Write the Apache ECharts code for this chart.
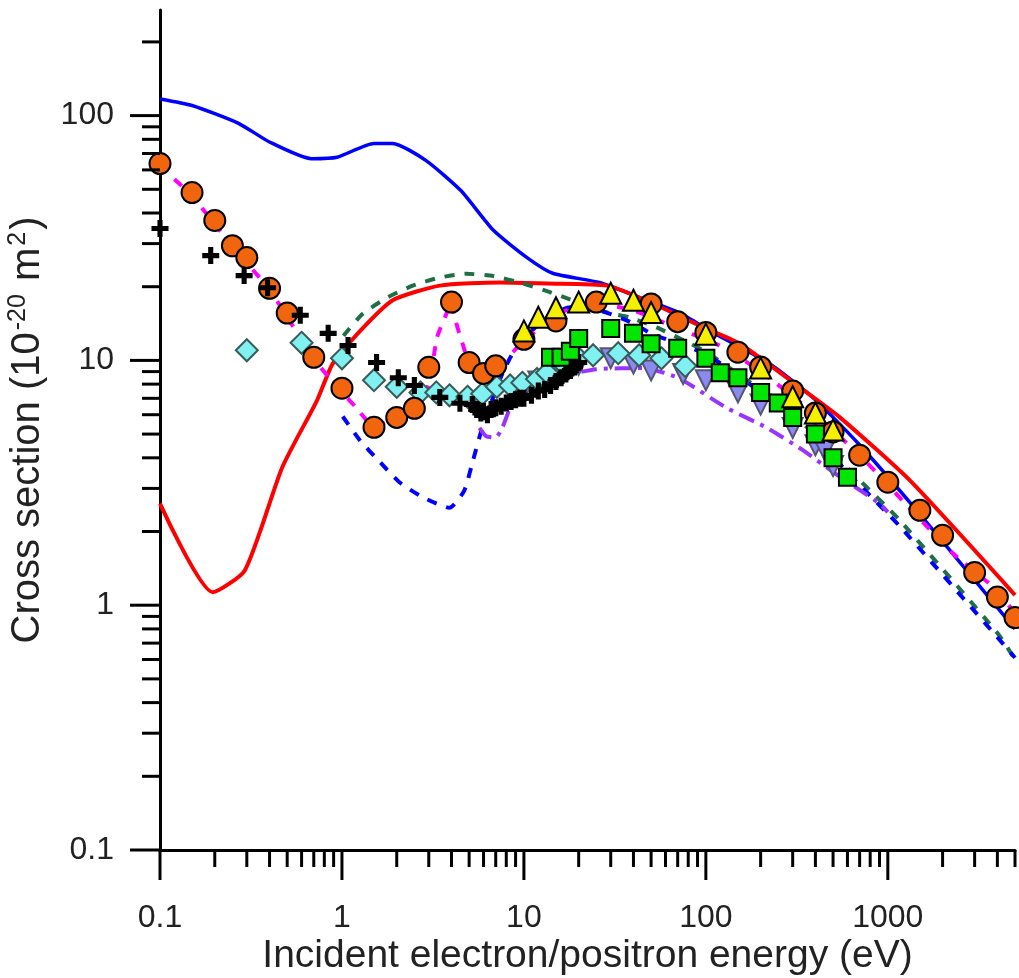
<!DOCTYPE html>
<html>
<head>
<meta charset="utf-8">
<script src="https://cdn.jsdelivr.net/npm/echarts@6/dist/echarts.min.js"></script>
<style>
  html, body { margin: 0; padding: 0; background: #fff; }
  #chart { width: 1019px; height: 978px; }
</style>
</head>
<body>
<div id="chart"></div>
<script>
// ---- data: [energy (eV), cross section (1e-20 m^2)] ----
const blueSolid = [[0.1,117],[0.15,110],[0.27,93],[0.4,78],[0.68,66.7],[0.94,67.6],[1.5,77],[1.9,77],[2.9,65.5],[4.5,49.4],[6.8,34],[10.4,26.3],[14.4,22.7],[26,20.8],[43,18.1],[72,15.6],[109,13],[224,9.7],[387,7.06],[684,4.6],[1440,2.44],[5000,0.8]];
const redSolid = [[0.1,2.6],[0.195,1.13],[0.293,1.39],[0.47,3.66],[0.73,6.87],[0.89,9.7],[1.26,13.2],[1.9,17.6],[3.45,20.2],[7.4,20.8],[13.4,20.6],[28.6,20.2],[100,13.5],[154,11.7],[328,7.76],[545,5.85],[1318,3.24],[5000,1.1]];
const greenDashed = [[1.02,12.6],[1.3,15.5],[1.76,18],[2.45,20.2],[3.45,21.8],[4.8,22.6],[6.8,22.1],[9.9,20.6],[13.9,19],[28.6,15.7],[38,15],[54,13.6],[75,12.1],[101,10.8],[191,7.76],[341,5.53],[700,3.24],[1164,2.22],[4000,0.77],[5000,0.6]];
const blueDashed = [[1.01,5.9],[1.26,4.7],[1.62,3.84],[2.07,3.18],[2.78,2.76],[3.9,2.5],[4.7,2.94],[5.25,3.9],[5.9,5.3],[7.4,8.4],[8.7,10.7],[12,14],[18,16.5],[26,16],[38,14.4],[51,12.8],[100,10.6],[191,7.6],[341,5.4],[700,3.1],[1164,2.1],[4000,0.74],[5000,0.61]];
const magentaDashed = [[0.12,55],[0.15,47],[0.2,36],[0.3,25],[0.4,19.5],[0.5,15],[0.76,9.4],[1.2,6.4],[1.5,5.4],[2,5.8],[2.5,6.3],[3,8],[3.33,12.4],[3.75,15.5],[3.95,17.4],[4.2,14.6],[4.6,11.7],[5.2,9],[6,8.8],[7,9.2],[10,12],[16,15.7],[25,17],[40,16],[70,13.5],[119,11.5],[200,9],[400,6],[700,4.1],[1000,3.1],[2275,1.63],[3980,1.15],[5000,0.92]];
const purpleDashDot = [[5.7,5.3],[6.2,4.9],[7,4.85],[7.6,5.3],[8.5,6.5],[10,7.5],[15,8.5],[25,9.2],[45,9.3],[70,8.5],[130,6.4],[217,5.3],[341,4.3],[500,3.5],[900,2.6],[1000,2.4]];

const orangeCircles = [[0.1,63.7],[0.15,48.5],[0.2,37.3],[0.25,29.4],[0.3,26.3],[0.4,19.7],[0.5,15.6],[0.7,10.3],[1,7.7],[1.5,5.33],[2,5.85],[2.5,6.37],[3,9.37],[4,17.3],[5,9.8],[6,8.85],[7,9.5],[10,12.2],[15,14.5],[25,17.3],[50,17],[70,14.4],[100,13],[150,10.8],[200,9.4],[300,7.5],[400,6.1],[500,5.1],[700,4.1],[1000,3.18],[1500,2.44],[2000,1.93],[3000,1.36],[4000,1.08],[5000,0.89]];
const blackPlus = [[0.1,34.6],[0.19,26.8],[0.29,22.2],[0.39,19.8],[0.59,15.3],[0.84,12.9],[1.08,11.5],[1.55,9.8],[2.04,8.5],[2.5,7.9],[3.45,7.06],[4.45,6.68],[5.2,6.6],[5.5,6.3],[5.8,6.1],[6,6.2],[6.3,6.0],[6.6,6.3],[7,6.4],[7.5,6.5],[8,6.7],[8.5,6.8],[9,6.9],[9.5,7.0],[10,7.0],[11,7.2],[12,7.5],[13,7.6],[14,7.9],[15,8.2],[16,8.5],[17,8.8],[18,9.1],[19,9.4],[20,9.8]];
const cyanDiamonds = [[0.3,11],[0.6,11.8],[1,10.2],[1.5,8.3],[2,7.8],[2.7,7.4],[3.3,7.4],[3.9,7.2],[4.9,7.1],[5.9,7.3],[7.1,7.8],[8.4,7.9],[9.8,8.1],[11.8,8.4],[13.4,8.9],[16.4,9.7],[20,10.2],[24,10.5],[33,10.7],[43,10.5],[57,10.2],[77,9.5]];
const yellowTriangles = [[10,13.2],[12,15],[15,16.4],[20,17.3],[30,18.8],[40,17.6],[50,15.7],[100,12.8],[200,9.3],[300,7.1],[400,6.1],[500,5.2]];
const greenSquares = [[14,10.3],[16,10.3],[18,10.9],[20,12.3],[30,13.5],[40,12.9],[50,11.7],[70,11.2],[100,10.2],[120,8.9],[150,8.5],[200,7.4],[250,6.7],[300,5.85],[400,5.0],[500,4.0],[600,3.33]];
const lavenderTriangles = [[9,7.2],[10,7.6],[12,8.2],[15,8.8],[20,9.6],[30,10.2],[40,9.7],[50,9.1],[75,8.8],[100,8.3],[150,7.4],[200,6.6],[300,5.3],[400,4.5],[450,4.3],[500,3.7]];

// axis ranges
const xMin = 0.1, xMax = 5000;
const yMin = 0.1, yMax = 270;

const FONT = "'Liberation Sans', Arial, sans-serif";
const PLUS = 'path://M3.5,0h3v3.5h3.5v3h-3.5v3.5h-3v-3.5h-3.5v-3h3.5z';

const chart = echarts.init(document.getElementById('chart'), null, { renderer: 'canvas' });

// only label whole decades (log axis also puts a tick at the axis max)
function decadeLabel(v) {
  const e = Math.log10(v);
  if (Math.abs(e - Math.round(e)) > 1e-6) return '';
  return String(Math.pow(10, Math.round(e)));
}

function lineSeries(data, color, type, width) {
  return {
    type: 'line', data: data, showSymbol: false, smooth: 0.2, z: 2,
    lineStyle: { color: color, width: width || 3.5, type: type },
    silent: true
  };
}

function markerSeries(data, symbol, size, fill, border, z, rotate) {
  return {
    type: 'scatter', data: data, symbol: symbol, symbolSize: size, z: z,
    symbolRotate: rotate || 0,
    itemStyle: { color: fill, borderColor: border, borderWidth: border ? 2 : 0, opacity: 1 },
    silent: true
  };
}

const option = {
  animation: false,
  backgroundColor: '#fff',
  grid: { left: 160, right: 4, top: 10, bottom: 128, containLabel: false, outerBoundsMode: 'none' },
  xAxis: {
    type: 'log', logBase: 10, min: xMin, max: xMax,
    name: 'Incident electron/positron energy (eV)',
    nameLocation: 'middle', nameGap: 87, nameMoveOverlap: false,
    nameTextStyle: { fontSize: 39, color: '#222', fontFamily: FONT },
    axisLine: { show: true, lineStyle: { color: '#000', width: 3 } },
    axisTick: { show: false },
    splitLine: { show: false },
    axisLabel: { margin: 52, fontSize: 32, color: '#222', fontFamily: FONT, formatter: decadeLabel }
  },
  yAxis: {
    type: 'log', logBase: 10, min: yMin, max: yMax,
    name: '{t|Cross section (10}{s|-20}{t| m}{s|2}{t|)}',
    nameLocation: 'middle', nameGap: 110, nameRotate: 90, nameMoveOverlap: false,
    nameTextStyle: {
      color: '#222', fontFamily: FONT,
      rich: {
        t: { fontSize: 40, color: '#222', fontFamily: FONT, lineHeight: 44 },
        s: { fontSize: 25, color: '#222', fontFamily: FONT, lineHeight: 44, verticalAlign: 'top', padding: [0, 2, 0, 2] }
      }
    },
    axisLine: { show: true, lineStyle: { color: '#000', width: 3 } },
    axisTick: { show: false },
    splitLine: { show: false },
    axisLabel: { margin: 46, fontSize: 32, color: '#222', fontFamily: FONT, formatter: decadeLabel }
  },
  series: [
    lineSeries(blueSolid, '#0000ff', 'solid'),
    lineSeries(redSolid, '#ff0000', 'solid', 4),
    lineSeries(greenDashed, '#1f6e45', [10, 10], 4),
    lineSeries(blueDashed, '#0000ff', [10, 10], 4),
    lineSeries(magentaDashed, '#ff00ff', [10, 10], 4),
    lineSeries(purpleDashDot, '#9933ff', [16, 7, 4, 7], 4),
    markerSeries(lavenderTriangles, 'triangle', 20, '#8a8af0', '#555577', 5, 180),
    markerSeries(cyanDiamonds, 'diamond', 22, '#80f0f0', '#3a5a5a', 6),
    markerSeries(orangeCircles, 'circle', 21, '#f0650e', '#000', 7),
    markerSeries(blackPlus, PLUS, 17, '#000', null, 8),
    markerSeries(greenSquares, 'rect', 17, '#00e600', '#000', 9),
    markerSeries(yellowTriangles, 'triangle', 21, '#f5f000', '#000', 10)
  ]
};

chart.setOption(option);

// log-axis ticks (1..9 of each decade) placed through the axis scale
function decadeTicks(lo, hi) {
  const out = [];
  for (let e = Math.floor(Math.log10(lo)); e <= Math.ceil(Math.log10(hi)); e++) {
    for (let m = 1; m <= 9; m++) {
      const v = +(m * Math.pow(10, e)).toPrecision(6);
      if (v >= lo * 0.999 && v <= hi * 1.001) out.push({ v: v, major: m === 1 });
    }
  }
  return out;
}

const tickShapes = [];
const x0 = chart.convertToPixel({ xAxisIndex: 0 }, xMin);
const y0 = chart.convertToPixel({ yAxisIndex: 0 }, yMin);
decadeTicks(xMin, xMax).forEach(function (t) {
  const px = chart.convertToPixel({ xAxisIndex: 0 }, t.v);
  tickShapes.push({
    type: 'line', silent: true, z: 20,
    shape: { x1: px, y1: y0, x2: px, y2: y0 + (t.major ? 30 : 17) },
    style: { stroke: '#000', lineWidth: 3 }
  });
});
decadeTicks(yMin, yMax).forEach(function (t) {
  const py = chart.convertToPixel({ yAxisIndex: 0 }, t.v);
  tickShapes.push({
    type: 'line', silent: true, z: 20,
    shape: { x1: x0, y1: py, x2: x0 - (t.major ? 30 : 18), y2: py },
    style: { stroke: '#000', lineWidth: 3 }
  });
});
chart.setOption({ graphic: tickShapes });
</script>
</body>
</html>
